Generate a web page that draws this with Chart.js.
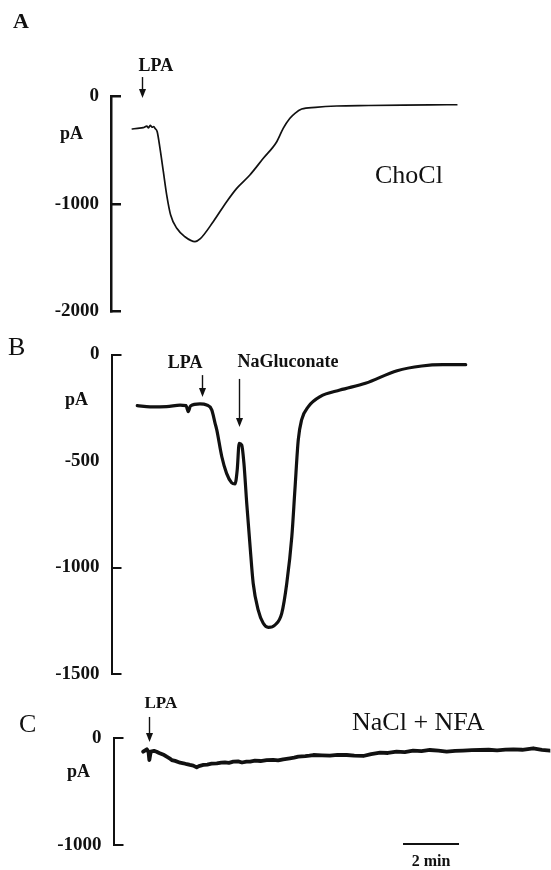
<!DOCTYPE html>
<html>
<head>
<meta charset="utf-8">
<script src="https://cdn.jsdelivr.net/npm/chart.js@4"></script>
<style>
  html, body { margin: 0; padding: 0; background: #fff; }
  body { width: 551px; height: 870px; position: relative; overflow: hidden; }
  .panel { position: absolute; left: 0; }
  canvas { display: block; }
</style>
</head>
<body>
<div class="panel" style="top:0px"><canvas id="chartA" width="551" height="330"></canvas></div>
<div class="panel" style="top:330px"><canvas id="chartB" width="551" height="360"></canvas></div>
<div class="panel" style="top:690px"><canvas id="chartC" width="551" height="180"></canvas></div>
<script>
// time in min, current in pA

// A: ChoCl
var timeA = [0.76, 0.95, 1.15, 1.28, 1.34, 1.40, 1.47, 1.53, 1.57, 1.65, 1.75, 1.87, 1.99, 2.13,
  2.35, 2.64, 3.00, 3.18, 3.65, 4.13, 4.49, 4.96, 5.44, 5.92, 6.15, 6.39, 6.57, 6.81, 7.30,
  8.06, 9.20, 10.43, 11.40, 12.35];
var currentA = [-306, -300, -294, -280, -296, -272, -290, -283, -300, -331, -486, -702, -919, -1104,
  -1228, -1306, -1352, -1327, -1167, -981, -857, -733, -578, -424, -300, -207, -161, -121, -105,
  -93, -88, -84, -82, -81];
var ticksA = [0, -1000, -2000];

// B: LPA then NaGluconate
var timeB = [0.92, 1.38, 1.97, 2.45, 2.66, 2.74, 2.82, 3.16, 3.40, 3.58, 3.70, 3.76, 3.94, 4.11,
  4.29, 4.41, 4.49, 4.56, 4.65, 4.73, 4.83, 4.95, 5.06, 5.24, 5.42, 5.60, 5.84, 6.08, 6.26,
  6.44, 6.55, 6.67, 6.79, 7.03, 7.45, 8.16, 9.07, 10.20, 11.08, 11.83, 12.65];
var currentB = [-240, -246, -245, -238, -240, -268, -242, -232, -237, -260, -323, -354, -480, -558,
  -602, -608, -542, -417, -425, -511, -699, -902, -1074, -1200, -1262, -1281, -1270, -1215, -1074,
  -855, -636, -401, -307, -245, -198, -167, -135, -76, -54, -48, -48];
var ticksB = [0, -500, -1000, -1500];
var noMarkB = [-500];

// C: NaCl + NFA (noisy record)
var timeC = [1.06, 1.19, 1.25, 1.28, 1.33, 1.45, 1.54, 1.63, 1.72, 1.81, 1.90, 2.00, 2.08, 2.20,
  2.38, 2.50, 2.62, 2.73, 2.85, 2.97, 3.05, 3.21, 3.35, 3.50, 3.69, 3.85, 3.98, 4.12, 4.28, 4.45,
  4.59, 4.75, 4.88, 5.05, 5.25, 5.47, 5.70, 5.88, 6.06, 6.30, 6.45, 6.60, 6.85, 7.00, 7.14, 7.45,
  7.73, 8.00, 8.33, 8.60, 8.92, 9.20, 9.52, 9.80, 10.11, 10.40, 10.70, 11.00, 11.30, 11.60, 11.90,
  12.20, 12.48, 12.80, 13.09, 13.40, 13.70, 14.00, 14.28, 14.60, 14.99, 15.30, 15.59];
var currentC = [-128, -106, -130, -206, -128, -120, -128, -140, -150, -160, -175, -190, -206, -214,
  -231, -236, -245, -252, -258, -274, -262, -252, -248, -240, -237, -230, -228, -232, -221, -218,
  -229, -220, -221, -212, -215, -206, -204, -210, -199, -190, -184, -175, -170, -165, -159, -162,
  -165, -158, -159, -165, -168, -150, -137, -140, -128, -132, -118, -122, -112, -118, -128,
  -120, -118, -114, -112, -110, -115, -108, -106, -110, -96, -110, -119];
var ticksC = [0, -1000];

// agonist application times (min)
var eventsA = ["LPA"];
var eventTimesA = [1.11];
var eventsB = ["LPA", "NaGluconate"];
var eventTimesB = [3.23, 4.55];
var eventsC = ["LPA"];
var eventTimesC = [1.27];

var scaleBarMin = 2;
var scaleBarStart = 10.34;

var INK = "#111";
var SERIF = '"Liberation Serif", "Times New Roman", serif';
var PX_PER_MIN = 28;
var X_MAX = 15.6;
var Y_AXIS_W = 80;

function toPoints(t, v) {
  return t.map(function (x, i) { return { x: x, y: v[i] }; });
}

function buildPanel(canvasId, p) {
  var canvas = document.getElementById(canvasId);
  var off = p.pageTop;

  var decor = {
    id: "decor",
    afterDraw: function (chart) {
      var ctx = chart.ctx, xs = chart.scales.x, ys = chart.scales.y;
      ctx.save();
      ctx.fillStyle = INK;
      ctx.strokeStyle = INK;
      ctx.textBaseline = "alphabetic";

      p.texts.forEach(function (t) {
        ctx.font = t.font;
        ctx.textAlign = t.align || "left";
        ctx.fillText(t.text, t.x, t.y - off);
      });

      p.events.forEach(function (name, i) {
        var a = p.arrows[i];
        var x = Math.round(xs.getPixelForValue(p.eventTimes[i])) + 0.5;
        var tip = ys.getPixelForValue(a.tip);
        var tail = tip - a.len;
        ctx.lineWidth = 1.4;
        ctx.beginPath();
        ctx.moveTo(x, tail);
        ctx.lineTo(x, tip - 6);
        ctx.stroke();
        ctx.beginPath();
        ctx.moveTo(x - 3.5, tip - 9);
        ctx.lineTo(x + 3.5, tip - 9);
        ctx.lineTo(x, tip);
        ctx.closePath();
        ctx.fill();
        ctx.font = a.font;
        ctx.textAlign = a.align;
        ctx.fillText(name, x + a.dx, tail - a.gap);
      });

      if (p.bar) {
        var x0 = xs.getPixelForValue(scaleBarStart);
        var x1 = xs.getPixelForValue(scaleBarStart + scaleBarMin);
        ctx.lineWidth = 2;
        ctx.beginPath();
        ctx.moveTo(x0, p.bar.y - off);
        ctx.lineTo(x1, p.bar.y - off);
        ctx.stroke();
        ctx.font = "bold 16px " + SERIF;
        ctx.textAlign = "center";
        ctx.fillText(scaleBarMin + " min", (x0 + x1) / 2, p.bar.labelY - off);
      }
      ctx.restore();
    }
  };

  return new Chart(canvas, {
    type: "line",
    data: {
      datasets: [{
        data: toPoints(p.time, p.current),
        borderColor: INK,
        borderWidth: p.lineWidth,
        pointRadius: 0,
        cubicInterpolationMode: p.smooth ? "monotone" : "default",
        tension: 0,
        borderJoinStyle: "round",
        borderCapStyle: "round",
        fill: false
      }]
    },
    options: {
      responsive: false,
      animation: false,
      events: [],
      layout: {
        padding: {
          left: p.axisX - Y_AXIS_W,
          right: canvas.width - (p.axisX + X_MAX * PX_PER_MIN),
          top: p.zeroY - off,
          bottom: off + canvas.height - p.minY
        }
      },
      plugins: { legend: { display: false }, tooltip: { enabled: false } },
      scales: {
        x: { type: "linear", display: false, min: 0, max: X_MAX },
        y: {
          type: "linear",
          min: p.ticks[p.ticks.length - 1],
          max: 0,
          afterBuildTicks: function (s) {
            s.ticks = p.ticks.map(function (v) { return { value: v }; });
          },
          afterFit: function (s) {
            // fixed axis width, and keep label padding from shrinking the plot
            s.width = Y_AXIS_W;
            s.paddingTop = 0;
            s.paddingBottom = 0;
          },
          border: { display: true, color: INK, width: p.axisWidth },
          grid: {
            display: true,
            drawOnChartArea: false,
            drawTicks: true,
            tickLength: -10,
            lineWidth: p.axisWidth,
            color: function (c) {
              return (p.noMark || []).indexOf(c.tick && c.tick.value) >= 0 ? "rgba(0,0,0,0)" : INK;
            }
          },
          ticks: {
            color: INK,
            padding: 22,
            font: { family: SERIF, size: 19, weight: "bold" },
            callback: function (v) { return String(v); }
          }
        }
      }
    },
    plugins: [decor]
  });
}

buildPanel("chartA", {
  pageTop: 0, axisX: 111, zeroY: 96, minY: 311.5,
  time: timeA, current: currentA, ticks: ticksA,
  lineWidth: 1.7, axisWidth: 2.5, smooth: true,
  events: eventsA, eventTimes: eventTimesA,
  arrows: [{ tip: -19, len: 21, dx: -4, gap: 6, align: "left", font: "bold 18px " + SERIF }],
  texts: [
    { text: "A", x: 13, y: 28, font: "bold 22px " + SERIF },
    { text: "pA", x: 60, y: 139, font: "bold 18px " + SERIF },
    { text: "ChoCl", x: 375, y: 183, font: "26px " + SERIF }
  ]
});

buildPanel("chartB", {
  pageTop: 330, axisX: 111.5, zeroY: 354.5, minY: 674,
  time: timeB, current: currentB, ticks: ticksB, noMark: noMarkB,
  lineWidth: 3.2, axisWidth: 2, smooth: true,
  events: eventsB, eventTimes: eventTimesB,
  arrows: [
    { tip: -200, len: 22, dx: 0, gap: 7, align: "right", font: "bold 18px " + SERIF },
    { tip: -340, len: 48, dx: -2, gap: 12, align: "left", font: "bold 18px " + SERIF }
  ],
  texts: [
    { text: "B", x: 8, y: 355, font: "26px " + SERIF },
    { text: "pA", x: 65, y: 405, font: "bold 18px " + SERIF }
  ]
});

buildPanel("chartC", {
  pageTop: 690, axisX: 113.5, zeroY: 738, minY: 845,
  time: timeC, current: currentC, ticks: ticksC,
  lineWidth: 3.8, axisWidth: 2, smooth: false,
  events: eventsC, eventTimes: eventTimesC,
  arrows: [{ tip: -37, len: 25, dx: -5, gap: 9, align: "left", font: "bold 17px " + SERIF }],
  texts: [
    { text: "C", x: 19, y: 732, font: "26px " + SERIF },
    { text: "pA", x: 67, y: 777, font: "bold 18px " + SERIF },
    { text: "NaCl + NFA", x: 352, y: 730, font: "26px " + SERIF }
  ],
  bar: { y: 844, labelY: 866 }
});
</script>
</body>
</html>
